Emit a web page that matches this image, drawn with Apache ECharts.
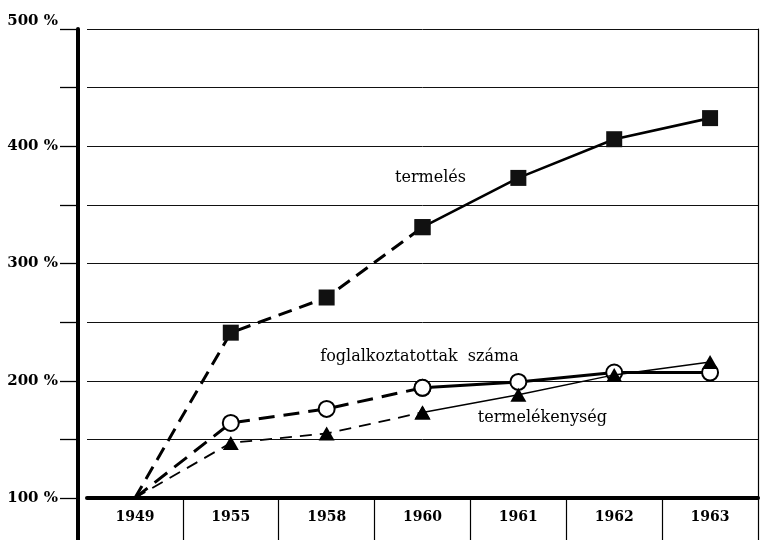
<!DOCTYPE html>
<html>
<head>
<meta charset="utf-8">
<script src="https://cdn.jsdelivr.net/npm/echarts@6/dist/echarts.min.js"></script>
<style>
  html, body { margin: 0; padding: 0; background: #fff; }
  #chart { width: 761px; height: 540px; }
</style>
</head>
<body>
<div id="chart"></div>
<script>
// ---- data ----
const categories = ['1949', '1955', '1958', '1960', '1961', '1962', '1963'];
const termeles = [100, 241, 271, 331, 373, 406, 424];
const foglalkoztatottak = [100, 164, 176, 194, 199, 207, 207];
const termelekenyseg = [100, 147, 155, 173, 188, 205, 216];
const yTicks = [100, 200, 300, 400, 500];
const yTickLabels = ['100 %', '200 %', '300 %', '400 %', '500 %'];
const seriesNames = ['termelés', 'foglalkoztatottak  száma', 'termelékenység'];
const solidFrom = 3; // index of 1960: dashed before, solid from here

const SERIF = '"DejaVu Serif", "Liberation Serif", serif';

function part(values, dashed) {
  return values.map((v, i) => {
    const keep = dashed ? i <= solidFrom : i >= solidFrom;
    if (!keep) return null;
    if (i === 0) return { value: v, symbol: 'none' };
    return v;
  });
}

function mk(name, values, dashed, style) {
  return {
    name: name,
    type: 'line',
    data: part(values, dashed),
    connectNulls: false,
    symbol: style.symbol,
    symbolSize: style.symbolSize,
    showAllSymbol: true,
    itemStyle: style.itemStyle,
    lineStyle: {
      color: '#000',
      width: dashed ? style.dashWidth : style.solidWidth,
      type: dashed ? style.dash : 'solid'
    },
    z: style.z,
    silent: true
  };
}

const sTerm = { symbol: 'rect', symbolSize: 16, itemStyle: { color: '#111' }, dashWidth: 3, solidWidth: 2.6, dash: [14, 8], z: 3 };
const sFog = { symbol: 'circle', symbolSize: 16, itemStyle: { color: '#fff', borderColor: '#000', borderWidth: 2 }, dashWidth: 3, solidWidth: 3, dash: [16, 9], z: 4 };
const sTek = { symbol: 'triangle', symbolSize: [16, 14], itemStyle: { color: '#000' }, dashWidth: 1.8, solidWidth: 1.5, dash: [12, 8], z: 5 };

function annot(text, cat, val, offset) {
  return {
    symbol: 'rect',
    symbolSize: 1,
    silent: true,
    itemStyle: { color: 'rgba(0,0,0,0)' },
    label: {
      show: true,
      position: 'inside',
      offset: offset,
      formatter: text,
      color: '#000',
      fontFamily: SERIF,
      fontSize: 16
    },
    data: [{ coord: [cat, val] }]
  };
}

const series = [
  mk(seriesNames[0], termeles, true, sTerm),
  Object.assign(mk(seriesNames[0], termeles, false, sTerm), { markPoint: annot(seriesNames[0], '1960', 373, [8, 0]) }),
  mk(seriesNames[1], foglalkoztatottak, true, sFog),
  Object.assign(mk(seriesNames[1], foglalkoztatottak, false, sFog), { markPoint: annot(seriesNames[1], '1960', 220, [-3, 0]) }),
  mk(seriesNames[2], termelekenyseg, true, sTek),
  Object.assign(mk(seriesNames[2], termelekenyseg, false, sTek), { markPoint: annot(seriesNames[2], '1961', 168, [24, 0]) })
];

const chart = echarts.init(document.getElementById('chart'), null, { renderer: 'canvas' });
chart.setOption({
  animation: false,
  backgroundColor: '#fff',
  grid: [
    { left: 87, right: 3, top: 29, bottom: 42, containLabel: false },
    { left: 87, right: 3, top: 498, bottom: 0, containLabel: false }
  ],
  xAxis: [
    {
      type: 'category',
      gridIndex: 0,
      data: categories,
      boundaryGap: true,
      axisLine: { show: true, lineStyle: { color: '#000', width: 4 } },
      axisTick: {
        show: true,
        length: 42,
        alignWithLabel: false,
        interval: function (index) { return index !== 0; },
        lineStyle: { color: '#000', width: 1.2 }
      },
      axisLabel: {
        show: true,
        margin: 12,
        color: '#000',
        fontFamily: SERIF,
        fontWeight: 'bold',
        fontSize: 14
      },
      splitLine: { show: false }
    },
    {
      type: 'category',
      gridIndex: 1,
      data: categories,
      show: false
    }
  ],
  yAxis: [
    {
      type: 'value',
      gridIndex: 0,
      min: 100,
      max: 500,
      interval: 50,
      offset: 9,
      axisLine: { show: true, lineStyle: { color: '#000', width: 4 } },
      axisTick: { show: true, length: 18, lineStyle: { color: '#000', width: 1.3 } },
      axisLabel: {
        show: true,
        margin: 20,
        color: '#000',
        fontFamily: SERIF,
        fontWeight: 'bold',
        fontSize: 15,
        verticalAlignMaxLabel: 'bottom',
        formatter: function (v) {
          const i = yTicks.indexOf(v);
          return i >= 0 ? yTickLabels[i] : '';
        }
      },
      splitLine: { show: true, lineStyle: { color: '#111', width: 1 } }
    },
    {
      type: 'value',
      gridIndex: 0,
      position: 'right',
      min: 100,
      max: 500,
      interval: 50,
      axisLine: { show: true, lineStyle: { color: '#000', width: 1.2 } },
      axisTick: { show: false },
      axisLabel: { show: false },
      splitLine: { show: false }
    },
    {
      type: 'value',
      gridIndex: 1,
      min: 0,
      max: 1,
      offset: 9,
      axisLine: { show: true, lineStyle: { color: '#000', width: 4 } },
      axisTick: { show: false },
      axisLabel: { show: false },
      splitLine: { show: false }
    }
  ],
  series: series
});
</script>
</body>
</html>
